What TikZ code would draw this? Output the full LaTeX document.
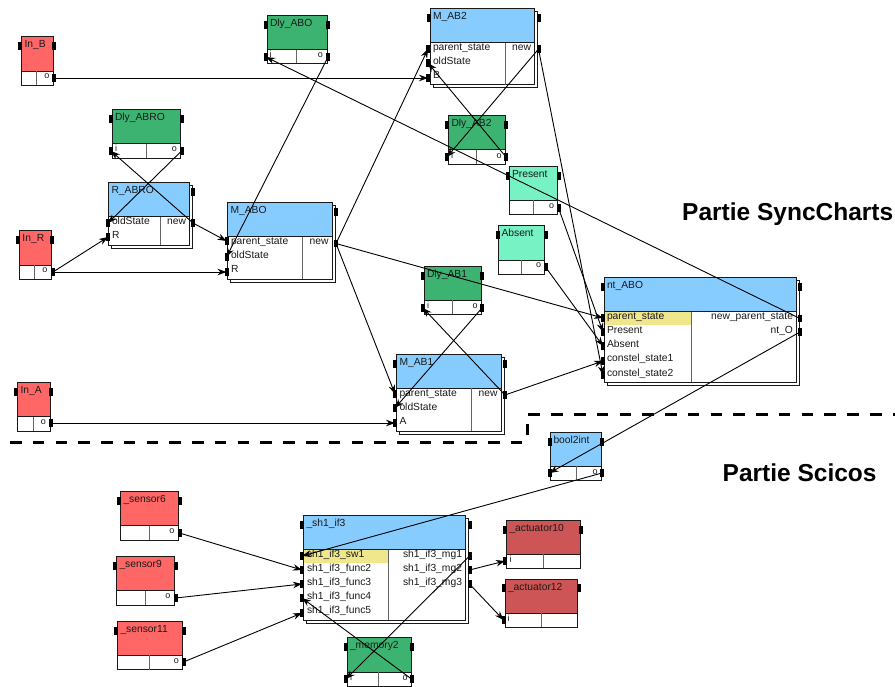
\documentclass[tikz,border=0pt]{standalone}
\usepackage{fontspec}
\setmainfont{Liberation Sans}
\usetikzlibrary{arrows.meta}
\definecolor{cred}{HTML}{FF6666}
\definecolor{cgreen}{HTML}{3CB371}
\definecolor{cblue}{HTML}{87CCFF}
\definecolor{caqua}{HTML}{76F2C4}
\definecolor{cact}{HTML}{CD5555}
\definecolor{cyel}{HTML}{F0E68C}
\definecolor{cink}{HTML}{1A1A1A}
\tikzset{
  portbox/.style={fill=black,draw=none,minimum width=4pt,minimum height=7.5pt,inner sep=0pt,outer sep=0pt},
  blockline/.style={draw=cink,line width=1pt},
  splitline/.style={draw=black!60,line width=1pt},
  txt/.style={inner sep=0pt,outer sep=0pt,font=\fontsize{10.3}{11}\selectfont,text=cink},
  lefttxt/.style={txt,anchor=base west},
  righttxt/.style={txt,anchor=base east},
  small/.style={inner sep=0pt,outer sep=0pt,font=\fontsize{9}{10}\selectfont,text=cink},
  link/.style={draw=black,line width=0.9pt,-{Stealth[length=9pt,width=6.5pt]}},
  band/.style={draw=black,line width=3pt,dash pattern=on 11.5pt off 11.27pt},
  heading/.style={inner sep=0pt,font=\bfseries\fontsize{24.5}{26}\selectfont,anchor=base west}
}
% id, label, x1, y1, x2, ydiv, y2, xsplit, colour
\newcommand{\blk}[9]{%
  \path[blockline,fill=white] (#3,#4) rectangle (#5,#7);
  \path[blockline,fill=#9] (#3,#4) rectangle (#5,#6);
  \path[splitline] (#8,#6) -- (#8,#7);
  \node[lefttxt] (#1-title) at ({#3+3},{#4+11}) {#2};
}
\newcommand{\sblk}[9]{%
  \path[blockline,fill=white] ({#3+3},{#4+3}) rectangle ({#5+3},{#7+3});
  \blk{#1}{#2}{#3}{#4}{#5}{#6}{#7}{#8}{#9}%
}
\newcommand{\port}[3]{\node[portbox] (#1) at (#2,#3) {};}
\newcommand{\LT}[4]{\node[lefttxt] (#1) at (#2,#3) {#4};}
\newcommand{\RT}[4]{\node[righttxt] (#1) at (#2,#3) {#4};}
\newcommand{\SM}[4]{\node[small,anchor=base] (#1) at (#2,#3) {#4};}
\begin{document}
\begin{tikzpicture}[x=1pt,y=-1pt]
\useasboundingbox (0,0) rectangle (895,686);

% dashed separator
\coordinate (ba) at (10,442);
\coordinate (bb) at (527,442);
\coordinate (bc) at (527,414);
\coordinate (bd) at (895,414);
\draw[band] (ba) -- (bb) -- (bc) -- (bd);

% In_B
\blk{inb}{In\_B}{21.5}{36.5}{53}{71}{85}{36.5}{cred}
\SM{inb-ol}{47}{78}{o}
\port{inb-a}{20}{46}\port{inb-b}{54}{46}\port{inb-o}{54}{78}
% In_R
\blk{inr}{In\_R}{19.5}{230.5}{51}{265}{279}{34.5}{cred}
\SM{inr-ol}{45}{272}{o}
\port{inr-a}{18}{240}\port{inr-b}{52}{240}\port{inr-o}{53}{272}
% In_A
\blk{ina}{In\_A}{17.5}{382.5}{50}{416.5}{431}{33.5}{cred}
\SM{ina-ol}{43.5}{424}{o}
\port{ina-a}{16}{392}\port{ina-b}{51}{392}\port{ina-o}{51}{423}
% Dly_ABO
\blk{dabo}{Dly\_ABO}{267}{15}{327}{49.5}{63}{296.5}{cgreen}
\SM{dabo-il}{270.5}{57}{i}\SM{dabo-ol}{320.5}{57}{o}
\port{dabo-a}{266}{25}\port{dabo-b}{327.5}{25}\port{dabo-i}{266}{57}\port{dabo-o}{328}{57}
% Dly_ABRO
\blk{dabro}{Dly\_ABRO}{112}{109.5}{180.5}{143.5}{158}{146}{cgreen}
\SM{dabro-il}{116}{151}{i}\SM{dabro-ol}{174.5}{151}{o}
\port{dabro-a}{111}{119}\port{dabro-b}{181.5}{119}\port{dabro-i}{111}{151}\port{dabro-o}{181.5}{151}
% R_ABRO
\sblk{rabro}{R\_ABRO}{108.5}{182.5}{189.5}{216.5}{245}{160}{cblue}
\LT{rabro-os}{112}{224.5}{oldState}\LT{rabro-r}{112}{238.5}{R}\RT{rabro-n}{186}{224.5}{new}
\port{rabro-b}{193}{192}\port{rabro-old}{108}{223}\port{rabro-rp}{108}{237}\port{rabro-new}{193}{223}
% M_ABO
\sblk{mabo}{M\_ABO}{227.5}{202.5}{332}{236.5}{279}{302.5}{cblue}
\LT{mabo-ps}{231}{244.5}{parent\_state}\LT{mabo-os}{231}{258.5}{oldState}\LT{mabo-r}{231}{272.5}{R}\RT{mabo-n}{328.5}{244.5}{new}
\port{mabo-b}{336}{212}\port{mabo-par}{226.5}{241}\port{mabo-old}{226.5}{257}\port{mabo-rp}{226.5}{272}\port{mabo-new}{336}{243.5}
% M_AB2
\sblk{mab2}{M\_AB2}{430}{8.5}{534.5}{42.5}{84.5}{505}{cblue}
\LT{mab2-ps}{433}{50.5}{parent\_state}\LT{mab2-os}{433}{64.5}{oldState}\LT{mab2-bl}{433}{78.5}{B}\RT{mab2-n}{531}{50.5}{new}
\port{mab2-a}{429}{18}\port{mab2-b}{538.5}{18}\port{mab2-par}{428}{49}\port{mab2-old}{428}{63}\port{mab2-bp}{428}{78}\port{mab2-new}{538.5}{49}
% Dly_AB2
\blk{dab2}{Dly\_AB2}{448.5}{115.5}{505}{149.5}{164}{476.5}{cgreen}
\SM{dab2-il}{452}{158}{i}\SM{dab2-ol}{499}{158}{o}
\port{dab2-a}{447}{125}\port{dab2-b}{506}{125}\port{dab2-i}{447}{157}\port{dab2-o}{506}{157}
% Present
\blk{pres}{Present}{509}{166}{557}{200}{214}{533}{caqua}
\SM{pres-ol}{551.5}{208}{o}
\port{pres-a}{508}{176}\port{pres-b}{558.5}{176}\port{pres-o}{558.5}{208}
% Absent
\blk{abse}{Absent}{498.5}{225.5}{544.5}{260}{274}{521}{caqua}
\SM{abse-ol}{538.5}{267}{o}
\port{abse-a}{497.5}{235}\port{abse-b}{545.5}{235}\port{abse-o}{545.5}{267}
% nt_ABO
\sblk{nt}{nt\_ABO}{604}{277.5}{796}{311.5}{382}{691}{cblue}
\fill[cyel] (604.5,312) rectangle (690.5,325);
\path[splitline] (691,311.5) -- (691,382);
\LT{nt-ps}{607}{319.5}{parent\_state}\LT{nt-pr}{607}{333.5}{Present}\LT{nt-ab}{607}{347.5}{Absent}\LT{nt-c1}{607}{361.5}{constel\_state1}\LT{nt-c2}{607}{376}{constel\_state2}
\RT{nt-np}{793}{319.5}{new\_parent\_state}\RT{nt-no}{793}{333.5}{nt\_O}
\port{nt-a}{603}{287}\port{nt-b}{800}{287}
\port{nt-par}{603}{318}\port{nt-pre}{603}{332}\port{nt-abs}{603}{346}\port{nt-con1}{603}{361}\port{nt-con2}{603}{375}
\port{nt-new}{800}{318.5}\port{nt-o}{800}{332}
% Dly_AB1
\blk{dab1}{Dly\_AB1}{424}{266}{481}{300}{314}{452}{cgreen}
\SM{dab1-il}{428}{308}{i}\SM{dab1-ol}{475}{308}{o}
\port{dab1-a}{423}{276}\port{dab1-b}{482}{276}\port{dab1-i}{423}{308}\port{dab1-o}{482}{308}
% M_AB1
\sblk{mab1}{M\_AB1}{396.5}{354}{501}{388}{431}{471.5}{cblue}
\LT{mab1-ps}{399.5}{396}{parent\_state}\LT{mab1-os}{399.5}{410}{oldState}\LT{mab1-al}{399.5}{424}{A}\RT{mab1-n}{497.5}{396}{new}
\port{mab1-a}{395}{364}\port{mab1-b}{505}{364}\port{mab1-par}{395}{394}\port{mab1-old}{395}{408}\port{mab1-ap}{395}{423}\port{mab1-new}{505}{395}
% bool2int
\blk{bool}{bool2int}{550.5}{432}{601.5}{466}{480.5}{576}{cblue}
\SM{bool-ol}{595}{474}{o}
\port{bool-a}{549.5}{442}\port{bool-b}{602}{442}\port{bool-i}{549.5}{473}\port{bool-o}{602}{473}
% sensors
\blk{s6}{\_sensor6}{120.5}{491.5}{178}{525.5}{540}{149}{cred}
\SM{s6-ol}{172}{533.5}{o}
\port{s6-a}{119}{501}\port{s6-b}{179.5}{501}\port{s6-o}{179.5}{533}
\blk{s9}{\_sensor9}{116.5}{556.5}{174}{590.5}{605}{145}{cred}
\SM{s9-ol}{168}{598.5}{o}
\port{s9-a}{115}{566}\port{s9-b}{175.5}{566}\port{s9-o}{175.5}{598}
\blk{s11}{\_sensor11}{117.5}{621}{182.5}{655}{669.5}{149.5}{cred}
\SM{s11-ol}{176.5}{663}{o}
\port{s11-a}{116}{631}\port{s11-b}{183.5}{631}\port{s11-o}{183.5}{662}
% _sh1_if3
\sblk{sh}{\_sh1\_if3}{303.5}{515}{465.5}{549.5}{620}{388.5}{cblue}
\fill[cyel] (304,550) rectangle (388,563);
\path[splitline] (388.5,549.5) -- (388.5,620);
\LT{sh-l1}{307}{557.5}{sh1\_if3\_sw1}\LT{sh-l2}{307}{571.5}{sh1\_if3\_func2}\LT{sh-l3}{307}{585.5}{sh1\_if3\_func3}\LT{sh-l4}{307}{599.5}{sh1\_if3\_func4}\LT{sh-l5}{307}{613.5}{sh1\_if3\_func5}
\RT{sh-r1}{462}{557.5}{sh1\_if3\_mg1}\RT{sh-r2}{462}{571.5}{sh1\_if3\_mg2}\RT{sh-r3}{462}{585.5}{sh1\_if3\_mg3}
\port{sh-a}{302}{525}\port{sh-b}{469.5}{525}
\port{sh-sw}{302}{556}\port{sh-f2}{302}{570}\port{sh-f3}{302}{584}\port{sh-f4}{302}{598}\port{sh-f5}{302}{613}
\port{sh-m1}{469.5}{556}\port{sh-m2}{469.5}{570}\port{sh-m3}{469.5}{584}
% actuators
\blk{a10}{\_actuator10}{506.5}{520}{580}{554}{568}{543.5}{cact}
\SM{a10-il}{510.5}{562}{i}
\port{a10-a}{505}{530}\port{a10-b}{581}{530}\port{a10-i}{505}{561}
\blk{a12}{\_actuator12}{505}{579}{577.5}{613}{627}{541}{cact}
\SM{a12-il}{508.5}{621}{i}
\port{a12-a}{503.5}{588}\port{a12-b}{578.5}{588}\port{a12-i}{503.5}{620}
% _memory2
\blk{mem}{\_memory2}{347}{637}{411}{672}{686}{378.5}{cgreen}
\SM{mem-il}{351}{680}{i}\SM{mem-ol}{405}{680}{o}
\port{mem-a}{346}{647}\port{mem-b}{411.5}{647}\port{mem-i}{346}{679}\port{mem-o}{411.5}{679}

% connectors
\draw[link] (inb-o.center) -- (mab2-bp.center);
\draw[link] (dabo-o.center) -- (mabo-old.center);
\draw[link] (nt-new.center) -- (dabo-i.center);
\draw[link] (dabro-o.center) -- (rabro-old.center);
\draw[link] (rabro-new.center) -- (dabro-i.center);
\draw[link] (rabro-new.center) -- (mabo-par.center);
\draw[link] (inr-o.center) -- (rabro-rp.center);
\draw[link] (inr-o.center) -- (mabo-rp.center);
\draw[link] (mabo-new.center) -- (mab2-par.center);
\draw[link] (mabo-new.center) -- (mab1-par.center);
\draw[link] (mabo-new.center) -- (nt-par.center);
\draw[link] (mab2-new.center) -- (dab2-i.center);
\draw[link] (dab2-o.center) -- (mab2-old.center);
\draw[link] (mab2-new.center) -- (nt-con2.center);
\draw[link] (pres-o.center) -- (nt-pre.center);
\draw[link] (abse-o.center) -- (nt-abs.center);
\draw[link] (mab1-new.center) -- (nt-con1.center);
\draw[link] (mab1-new.center) -- (dab1-i.center);
\draw[link] (dab1-o.center) -- (mab1-old.center);
\draw[link] (ina-o.center) -- (mab1-ap.center);
\draw[link] (nt-o.center) -- (bool-i.center);
\draw[link] (bool-o.center) -- (sh-sw.center);
\draw[link] (s6-o.center) -- (sh-f2.center);
\draw[link] (s9-o.center) -- (sh-f3.center);
\draw[link] (s11-o.center) -- (sh-f5.center);
\draw[link] (sh-m1.center) -- (mem-i.center);
\draw[link] (mem-o.center) -- (sh-f4.center);
\draw[link] (sh-m2.center) -- (a10-i.center);
\draw[link] (sh-m3.center) -- (a12-i.center);

% headings
\node[heading] (h1) at (682,220.5) {Partie SyncCharts};
\node[heading] (h2) at (722.5,481.5) {Partie Scicos};
\end{tikzpicture}
\end{document}
